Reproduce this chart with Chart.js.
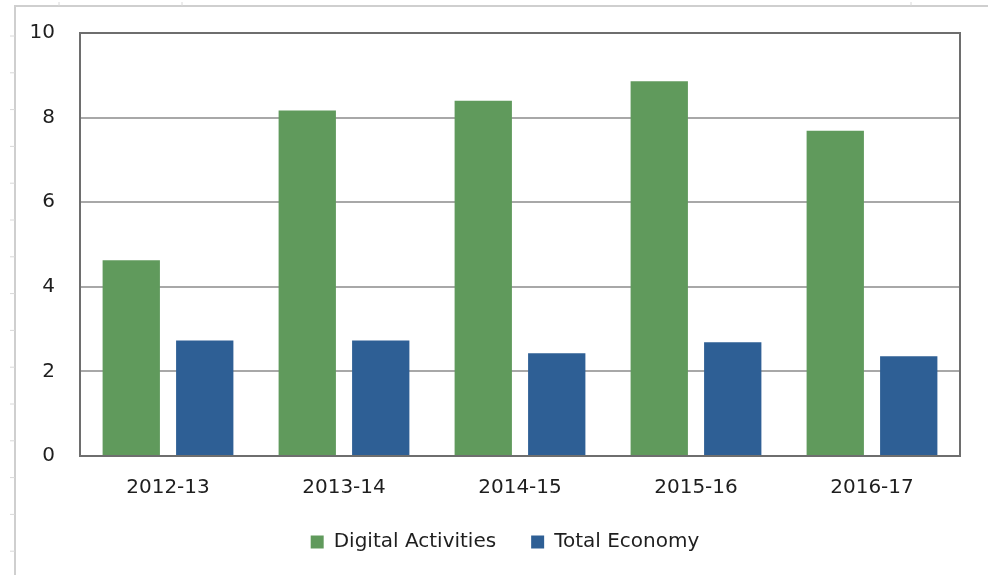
<!DOCTYPE html>
<html>
<head>
<meta charset="utf-8">
<script src="https://cdn.jsdelivr.net/npm/chart.js@4/dist/chart.umd.min.js"></script>
<style>
  html, body { margin: 0; padding: 0; background: #fff; }
  #wrap { width: 988px; height: 575px; position: relative; }
</style>
</head>
<body>
<div id="wrap"><canvas id="c" width="988" height="575"></canvas></div>
<script>
const categories = ["2012-13", "2013-14", "2014-15", "2015-16", "2016-17"];
const digitalActivities = [4.63, 8.17, 8.40, 8.86, 7.69];
const totalEconomy = [2.73, 2.73, 2.43, 2.69, 2.36];
const yTicks = [0, 2, 4, 6, 8, 10];

const frame = {
  id: 'frame',
  afterLayout(chart) {
    // centre the legend under the plot area, as in the source chart
    const lg = chart.legend;
    if (lg) { lg.left += 25; lg.right += 25; }
  },
  beforeDraw(chart) {
    const ctx = chart.ctx;
    ctx.save();
    ctx.fillStyle = '#fff';
    ctx.fillRect(0, 0, chart.width, chart.height);
    ctx.strokeStyle = '#cfcfcf';
    ctx.lineWidth = 2;
    ctx.beginPath();
    ctx.moveTo(15, chart.height);
    ctx.lineTo(15, 6);
    ctx.lineTo(chart.width, 6);
    ctx.stroke();
    ctx.lineWidth = 1;
    ctx.strokeStyle = '#d8d8d8';
    ctx.beginPath();
    for (let y = 36; y < chart.height; y += 36.8) {
      ctx.moveTo(10, y); ctx.lineTo(15, y);
    }
    for (const x of [59, 182, 911]) {
      ctx.moveTo(x, 2); ctx.lineTo(x, 6);
    }
    ctx.stroke();
    ctx.restore();
  },
  afterDatasetsDraw(chart) {
    const a = chart.chartArea;
    const ctx = chart.ctx;
    ctx.save();
    ctx.strokeStyle = '#6e6e6e';
    ctx.lineWidth = 2;
    ctx.strokeRect(a.left, a.top, a.right - a.left, a.bottom - a.top);
    ctx.restore();
  }
};

const FONT = 'DejaVu Sans';

new Chart(document.getElementById('c'), {
  type: 'bar',
  data: {
    labels: categories,
    datasets: [
      { label: 'Digital Activities', data: digitalActivities, backgroundColor: '#609a5c',
        categoryPercentage: 0.835, barPercentage: 0.78 },
      { label: 'Total Economy', data: totalEconomy, backgroundColor: '#2e5f95',
        categoryPercentage: 0.835, barPercentage: 0.78 }
    ]
  },
  options: {
    responsive: false,
    animation: false,
    devicePixelRatio: 1,
    layout: { padding: { top: 0, right: 28, bottom: 13, left: 0 } },
    plugins: {
      tooltip: { enabled: false },
      legend: {
        position: 'bottom',
        labels: {
          boxWidth: 13, boxHeight: 13, padding: 35,
          color: '#1e1e1e',
          font: { family: FONT, size: 20 }
        }
      }
    },
    scales: {
      x: {
        grid: { display: false, drawTicks: false },
        border: { display: false },
        ticks: { color: '#1e1e1e', padding: 20, font: { family: FONT, size: 20 } },
        afterFit(s) { s.height = 41; }
      },
      y: {
        min: 0, max: 10,
        afterBuildTicks(s) { s.ticks = yTicks.map(v => ({ value: v })); },
        grid: { color: '#a8a8a8', lineWidth: 2, drawTicks: false },
        border: { display: false },
        ticks: { color: '#1e1e1e', padding: 25, font: { family: FONT, size: 20, lineHeight: 0.8 } },
        afterFit(s) { s.width = 80; }
      }
    }
  },
  plugins: [frame]
});
</script>
</body>
</html>
